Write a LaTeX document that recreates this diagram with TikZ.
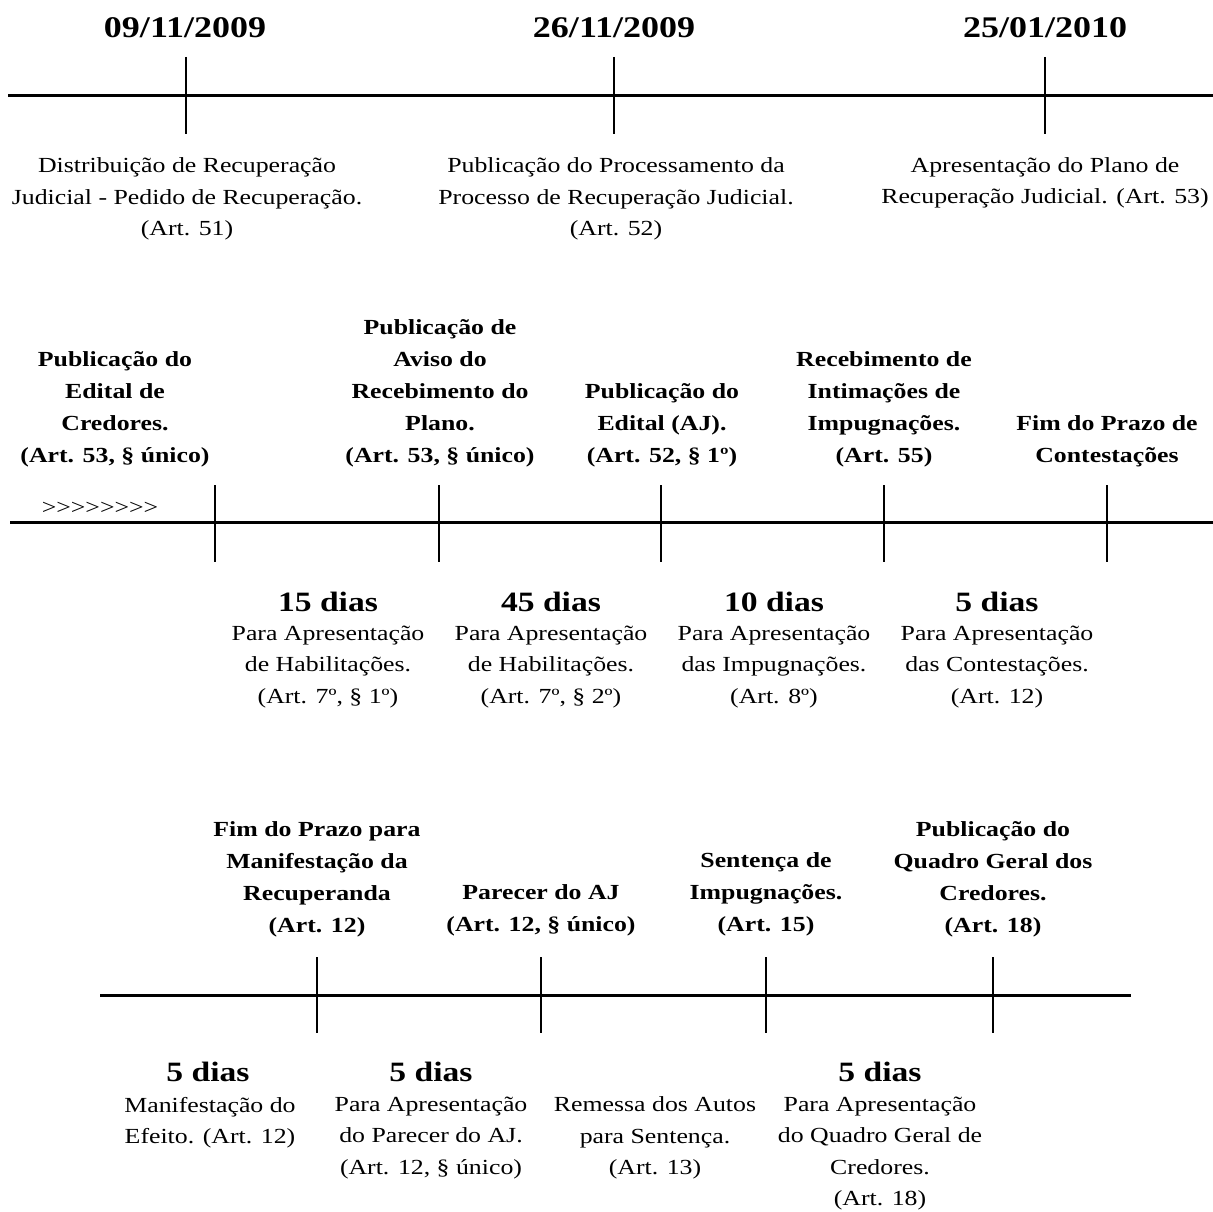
\documentclass[tikz,border=0pt]{standalone}
\usepackage{fontspec}
\setmainfont[FakeStretch=1.2]{Liberation Serif}
\begin{document}
\begin{tikzpicture}[x=1pt,y=-1pt,
  reg/.style={font=\fontsize{21.5}{31.5}\selectfont, align=center, inner sep=0pt},
  bld/.style={font=\bfseries\fontsize{21.5}{32}\selectfont, align=center, inner sep=0pt},
  dias/.style={font=\bfseries\fontsize{28}{32}\selectfont, inner sep=0pt},
  datelbl/.style={font=\bfseries\fontsize{30}{34}\selectfont, inner sep=0pt},
  axisline/.style={line width=3pt},
  tickline/.style={line width=2.5pt}]
\useasboundingbox (0,0) rectangle (1213,1212);
% ---------- Row 1 ----------
\coordinate (a1s) at (8,96); \coordinate (a1e) at (1213,96);
\draw[axisline] (a1s) -- (a1e);
\foreach \n/\x in {1/186,2/614,3/1045}{
  \coordinate (r1t\n a) at (\x,57); \coordinate (r1t\n b) at (\x,134);
  \draw[tickline] (r1t\n a) -- (r1t\n b);}
\node[datelbl] (d1) at (185,28) {09/11/2009};
\node[datelbl] (d2) at (614,28) {26/11/2009};
\node[datelbl] (d3) at (1045,28) {25/01/2010};
\node[reg] (e1) at (187,199) {Distribuição de Recuperação\\Judicial - Pedido de Recuperação.\\(Art. 51)};
\node[reg] (e2) at (616,199) {Publicação do Processamento da\\Processo de Recuperação Judicial.\\(Art. 52)};
\node[reg] (e3) at (1045,183) {Apresentação do Plano de\\Recuperação Judicial. (Art. 53)};
% ---------- Row 2 ----------
\coordinate (a2s) at (10,522); \coordinate (a2e) at (1213,522);
\draw[axisline] (a2s) -- (a2e);
\foreach \n/\x in {1/215,2/439,3/661,4/884,5/1107}{
  \coordinate (r2t\n a) at (\x,485); \coordinate (r2t\n b) at (\x,562);
  \draw[tickline] (r2t\n a) -- (r2t\n b);}
\node[bld] (m1) at (115,409) {Publicação do\\Edital de\\Credores.\\(Art. 53, § único)};
\node[bld] (m2) at (440,393) {Publicação de\\Aviso do\\Recebimento do\\Plano.\\(Art. 53, § único)};
\node[bld] (m3) at (662,425) {Publicação do\\Edital (AJ).\\(Art. 52, § 1º)};
\node[bld] (m4) at (884,409) {Recebimento de\\Intimações de\\Impugnações.\\(Art. 55)};
\node[bld] (m5) at (1107,441) {Fim do Prazo de\\Contestações};
\node[reg] (arr) at (100,508) {>{}>{}>{}>{}>{}>{}>{}>};
\node[dias] (p1) at (328,602) {15 dias};
\node[dias] (p2) at (551,602) {45 dias};
\node[dias] (p3) at (774,602) {10 dias};
\node[dias] (p4) at (997,602) {5 dias};
\node[reg] (q1) at (328,667) {Para Apresentação\\de Habilitações.\\(Art. 7º, § 1º)};
\node[reg] (q2) at (551,667) {Para Apresentação\\de Habilitações.\\(Art. 7º, § 2º)};
\node[reg] (q3) at (774,667) {Para Apresentação\\das Impugnações.\\(Art. 8º)};
\node[reg] (q4) at (997,667) {Para Apresentação\\das Contestações.\\(Art. 12)};
% ---------- Row 3 ----------
\coordinate (a3s) at (100,995); \coordinate (a3e) at (1131,995);
\draw[axisline] (a3s) -- (a3e);
\foreach \n/\x in {1/317,2/541,3/766,4/993}{
  \coordinate (r3t\n a) at (\x,957); \coordinate (r3t\n b) at (\x,1033);
  \draw[tickline] (r3t\n a) -- (r3t\n b);}
\node[bld] (s1) at (317,879) {Fim do Prazo para\\Manifestação da\\Recuperanda\\(Art. 12)};
\node[bld] (s2) at (541,910.5) {Parecer do AJ\\(Art. 12, § único)};
\node[bld] (s3) at (766,894.5) {Sentença de\\Impugnações.\\(Art. 15)};
\node[bld] (s4) at (993,879) {Publicação do\\Quadro Geral dos\\Credores.\\(Art. 18)};
\node[dias] (u1) at (208,1072) {5 dias};
\node[dias] (u2) at (431,1072) {5 dias};
\node[dias] (u4) at (880,1072) {5 dias};
\node[reg] (v1) at (210,1122.5) {Manifestação do\\Efeito. (Art. 12)};
\node[reg] (v2) at (431,1138) {Para Apresentação\\do Parecer do AJ.\\(Art. 12, § único)};
\node[reg] (v3) at (655,1138) {Remessa dos Autos\\para Sentença.\\(Art. 13)};
\node[reg] (v4) at (880,1153.5) {Para Apresentação\\do Quadro Geral de\\Credores.\\(Art. 18)};
\end{tikzpicture}
\end{document}
